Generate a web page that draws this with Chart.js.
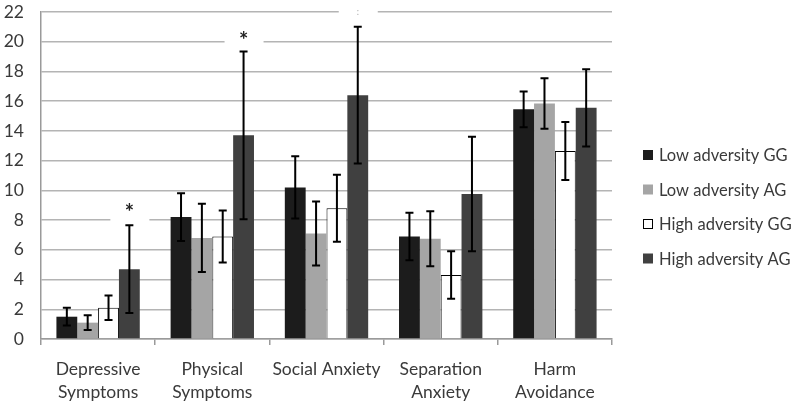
<!DOCTYPE html>
<html>
<head>
<meta charset="utf-8">
<script src="https://cdn.jsdelivr.net/npm/chart.js@4/dist/chart.umd.min.js"></script>
<style>
  body { margin: 0; background: #fff; }
  #wrap { width: 800px; height: 407px; }
</style>
</head>
<body>
<div id="wrap"><canvas id="myChart" width="800" height="407"></canvas></div>
<script>
'use strict';

// ===== data =====
var categories = [['Depressive', 'Symptoms'], ['Physical', 'Symptoms'], 'Social Anxiety', ['Separation', 'Anxiety'], ['Harm', 'Avoidance']];
var seriesNames = ['Low adversity GG', 'Low adversity AG', 'High adversity GG', 'High adversity AG'];

var lowGG  = [1.5, 8.2, 10.2, 6.9, 15.45];
var lowAG  = [1.1, 6.8, 7.1, 6.75, 15.85];
var highGG = [2.1, 6.9, 8.8, 4.3, 12.65];
var highAG = [4.7, 13.7, 16.4, 9.75, 15.55];

// error bar half-widths
var lowGGErr  = [0.6, 1.6, 2.1, 1.6, 1.2];
var lowAGErr  = [0.5, 2.3, 2.15, 1.85, 1.7];
var highGGErr = [0.83, 1.75, 2.25, 1.6, 1.95];
var highAGErr = [2.95, 5.65, 4.6, 3.85, 2.6];

var yTicks = [0, 2, 4, 6, 8, 10, 12, 14, 16, 18, 20, 22];

// significance marks: category index, value, text (placed over High adversity AG)
var noteCats   = [0, 1, 2];
var noteValues = [8.8, 20.4, 22];
var noteTexts  = ['*', '*', ':'];

var textColor = '#3a3a3a';
var fontFam = 'Lato, "Open Sans", sans-serif';

// error bars
var errorBars = {
    id: 'errorBars',
    afterDatasetsDraw: function (chart) {
        var ctx = chart.ctx;
        var y = chart.scales.y;
        ctx.save();
        ctx.strokeStyle = '#000';
        ctx.lineWidth = 2;
        chart.data.datasets.forEach(function (ds, di) {
            var meta = chart.getDatasetMeta(di);
            meta.data.forEach(function (bar, i) {
                var v = ds.data[i], e = ds.err[i];
                var top = y.getPixelForValue(v + e);
                var bot = y.getPixelForValue(v - e);
                ctx.beginPath();
                ctx.moveTo(bar.x, top); ctx.lineTo(bar.x, bot);
                ctx.moveTo(bar.x - 4, top); ctx.lineTo(bar.x + 4, top);
                ctx.moveTo(bar.x - 4, bot); ctx.lineTo(bar.x + 4, bot);
                ctx.stroke();
            });
        });
        ctx.restore();
    }
};

// asterisks with white boxes over the gridlines
var notes = {
    id: 'notes',
    beforeDatasetsDraw: function (chart) {
        var ctx = chart.ctx;
        var y = chart.scales.y;
        var meta = chart.getDatasetMeta(3);
        ctx.save();
        for (var i = 0; i < noteCats.length; i++) {
            var bx = meta.data[noteCats[i]].x;
            var by = y.getPixelForValue(noteValues[i]);
            ctx.fillStyle = '#fff';
            ctx.fillRect(bx - 19, by - 10, 39, 24);
            ctx.textAlign = 'center';
            if (noteTexts[i] === '*') {
                ctx.fillStyle = '#222';
                ctx.font = 'bold 22px ' + fontFam;
                ctx.textBaseline = 'top';
                ctx.fillText(noteTexts[i], bx, by - 6);
            } else {
                ctx.fillStyle = '#aaa';
                ctx.font = '9px ' + fontFam;
                ctx.textBaseline = 'middle';
                ctx.fillText(noteTexts[i], bx, by);
            }
        }
        ctx.restore();
    }
};

// legend on the right
var sideLegend = {
    id: 'sideLegend',
    afterDraw: function (chart) {
        var ctx = chart.ctx;
        ctx.save();
        ctx.font = '16.5px ' + fontFam;
        ctx.textBaseline = 'middle';
        chart.data.datasets.forEach(function (ds, i) {
            var cy = 155 + i * 34.5;
            ctx.fillStyle = ds.backgroundColor;
            ctx.fillRect(643, cy - 5, 10, 10);
            if (ds.backgroundColor === '#ffffff') {
                ctx.strokeStyle = '#000';
                ctx.lineWidth = 1;
                ctx.strokeRect(643.5, cy - 4.5, 9, 9);
            }
            ctx.fillStyle = textColor;
            ctx.fillText(ds.label, 659, cy + 1);
        });
        ctx.restore();
    }
};

var ctx = document.getElementById('myChart').getContext('2d');

var chart = new Chart(ctx, {
    type: 'bar',
    data: {
        labels: categories,
        datasets: [{
            label: seriesNames[0],
            data: lowGG, err: lowGGErr,
            backgroundColor: '#1c1c1c', borderColor: '#1c1c1c', borderWidth: 0
        }, {
            label: seriesNames[1],
            data: lowAG, err: lowAGErr,
            backgroundColor: '#a5a5a5', borderColor: '#a5a5a5', borderWidth: 0
        }, {
            label: seriesNames[2],
            data: highGG, err: highGGErr,
            backgroundColor: '#ffffff', borderColor: '#000000', borderWidth: 1
        }, {
            label: seriesNames[3],
            data: highAG, err: highAGErr,
            backgroundColor: '#404040', borderColor: '#404040', borderWidth: 0
        }]
    },
    options: {
        responsive: false,
        animation: false,
        layout: { padding: { top: 12, right: 188, left: 0, bottom: 0 } },
        datasets: { bar: { categoryPercentage: 0.73, barPercentage: 1.0 } },
        plugins: {
            legend: { display: false },
            tooltip: { enabled: false }
        },
        scales: {
            x: {
                afterFit: function (s) {
                    s.height = 68;
                    s.paddingLeft = 0; s.paddingRight = 0;
                },
                grid: {
                    offset: true,
                    drawOnChartArea: false,
                    drawTicks: true,
                    tickLength: 6,
                    color: '#9a9a9a',
                    lineWidth: 1.5
                },
                border: { color: '#9a9a9a', width: 1.5 },
                ticks: {
                    color: textColor,
                    padding: 13,
                    maxRotation: 0,
                    autoSkip: false,
                    font: { family: fontFam, size: 17.5, lineHeight: 1.32 }
                }
            },
            y: {
                min: 0,
                max: 22,
                afterFit: function (s) {
                    s.width = 41;
                    s.paddingTop = 0; s.paddingBottom = 0;
                },
                afterBuildTicks: function (s) {
                    s.ticks = yTicks.map(function (v) { return { value: v }; });
                },
                grid: {
                    drawTicks: false,
                    color: '#b4b4b4',
                    lineWidth: 1.5
                },
                border: { color: '#9a9a9a', width: 1.5 },
                ticks: {
                    color: textColor,
                    padding: 17,
                    font: { family: fontFam, size: 17.5 }
                }
            }
        }
    },
    plugins: [errorBars, notes, sideLegend]
});
</script>
</body>
</html>
